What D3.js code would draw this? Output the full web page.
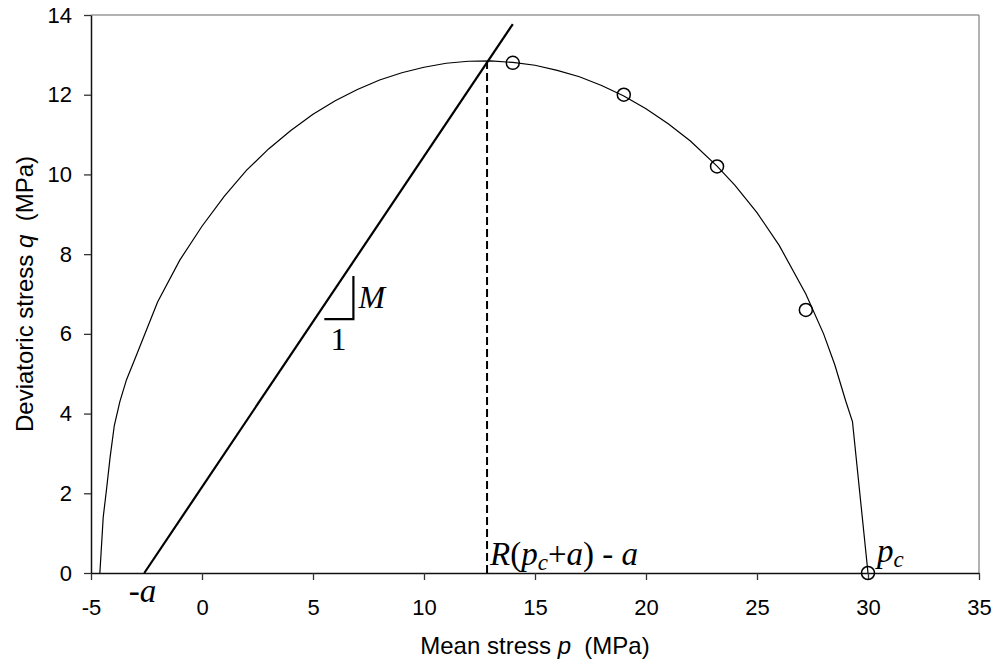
<!DOCTYPE html>
<html>
<head>
<meta charset="utf-8">
<script src="https://cdn.jsdelivr.net/npm/d3@7"></script>
<style>
body { margin: 0; background: #fff; }
svg { display: block; }
.sans { font-family: Arial, "Liberation Sans", sans-serif; }
.serif { font-family: "Times New Roman", "Liberation Serif", serif; }
</style>
</head>
<body>
<svg id="chart" width="997" height="668"></svg>
<script>
// yield surface
var curveP = [-4.6, -4.45, -4.3, -4.14, -3.95, -3.7, -3.4, -3.0, -2.0, -1.0, 0, 1, 2, 3, 4, 5, 6, 7, 8, 9, 10, 11, 12, 13, 14, 15, 16, 17, 18, 19, 20, 21, 22, 23.2, 24, 25, 26, 27.2, 28, 28.5, 29, 29.3, 30];
var curveQ = [0, 1.4, 2.1, 2.9, 3.7, 4.3, 4.85, 5.4, 6.8, 7.85, 8.7, 9.45, 10.1, 10.64, 11.1, 11.51, 11.85, 12.13, 12.37, 12.55, 12.69, 12.79, 12.84, 12.85, 12.81, 12.74, 12.61, 12.45, 12.23, 11.97, 11.65, 11.27, 10.84, 10.21, 9.73, 9.04, 8.22, 7.0, 6.0, 5.23, 4.31, 3.8, 0];

// test points (open circles)
var testP = [14, 19, 23.2, 27.2, 30];
var testQ = [12.8, 12.0, 10.2, 6.6, 0];

// critical state line, slope M
var cslP = [-2.6, 14.0];
var cslQ = [0, 13.77];

// dashed line at the peak
var peakP = [12.84, 12.84];
var peakQ = [0, 12.83];

var xTicks = [-5, 0, 5, 10, 15, 20, 25, 30, 35];
var yTicks = [0, 2, 4, 6, 8, 10, 12, 14];

var svg = d3.select("#chart");
var x = d3.scaleLinear().domain([-5, 35]).range([91, 979]);
var y = d3.scaleLinear().domain([0, 14]).range([573, 15]);

// frame top / right (grey)
svg.append("line")
    .attr("x1", x(-5)).attr("x2", x(35))
    .attr("y1", y(14)).attr("y2", y(14))
    .attr("stroke", "#999").attr("stroke-width", 1.5);
svg.append("line")
    .attr("x1", x(35)).attr("x2", x(35))
    .attr("y1", y(14)).attr("y2", y(0))
    .attr("stroke", "#999").attr("stroke-width", 1.5);

var fmt = function(d){ return String(d); };  // plain hyphen minus like the original

var xAxis = svg.append("g")
    .attr("class", "sans")
    .attr("transform", "translate(0," + y(0) + ")")
    .call(d3.axisBottom(x).tickValues(xTicks).tickFormat(fmt).tickSize(7).tickSizeOuter(0).tickPadding(19));
var yAxis = svg.append("g")
    .attr("class", "sans")
    .attr("transform", "translate(" + x(-5) + ",0)")
    .call(d3.axisLeft(y).tickValues(yTicks).tickFormat(fmt).tickSize(7).tickSizeOuter(0).tickPadding(12));

[xAxis, yAxis].forEach(function(g){
    g.selectAll("text").attr("font-size", 22).attr("fill", "#000")
        .attr("font-family", "Arial, 'Liberation Sans', sans-serif");
    g.select(".domain").attr("stroke", "#111").attr("stroke-width", 1.5);
    g.selectAll(".tick line").attr("stroke", "#333").attr("stroke-width", 1.3);
});

// axis titles
var xt = svg.append("text")
    .attr("class", "sans")
    .attr("x", (x(-5) + x(35)) / 2)
    .attr("y", 654)
    .attr("text-anchor", "middle")
    .attr("font-size", 24)
    .style("white-space", "pre");
xt.append("tspan").text("Mean stress ");
xt.append("tspan").attr("font-style", "italic").text("p");
xt.append("tspan").text("  (MPa)");

var yt = svg.append("text")
    .attr("class", "sans")
    .attr("transform", "translate(33," + (y(0) + y(14)) / 2 + ") rotate(-90)")
    .attr("text-anchor", "middle")
    .attr("font-size", 24)
    .style("white-space", "pre");
yt.append("tspan").text("Deviatoric stress ");
yt.append("tspan").attr("font-style", "italic").text("q");
yt.append("tspan").text("  (MPa)");

var line = d3.line()
    .x(function(d){ return x(d[0]); })
    .y(function(d){ return y(d[1]); });

// yield surface
svg.append("path")
    .datum(d3.zip(curveP, curveQ))
    .attr("d", line)
    .attr("fill", "none")
    .attr("stroke", "#000")
    .attr("stroke-width", 1.2);

// CSL
svg.append("path")
    .datum(d3.zip(cslP, cslQ))
    .attr("d", line)
    .attr("fill", "none")
    .attr("stroke", "#000")
    .attr("stroke-width", 2.2);

// dashed drop line
svg.append("path")
    .datum(d3.zip(peakP, peakQ))
    .attr("d", line)
    .attr("fill", "none")
    .attr("stroke", "#000")
    .attr("stroke-width", 2)
    .attr("stroke-dasharray", "8,4");

// circles
svg.selectAll("circle.pt")
    .data(d3.zip(testP, testQ))
    .enter().append("circle")
    .attr("class", "pt")
    .attr("cx", function(d){ return x(d[0]); })
    .attr("cy", function(d){ return y(d[1]); })
    .attr("r", 6.5)
    .attr("fill", "none")
    .attr("stroke", "#000")
    .attr("stroke-width", 1.5);

// slope triangle
svg.append("path")
    .attr("d", "M" + x(5.51) + "," + y(6.37) + "H" + x(6.82) + "V" + y(7.45))
    .attr("fill", "none")
    .attr("stroke", "#000")
    .attr("stroke-width", 2.2);
svg.append("text").attr("class", "serif")
    .attr("x", x(6.82) + 5).attr("y", y(6.37) - 11)
    .attr("font-size", 32).attr("font-style", "italic")
    .text("M");
svg.append("text").attr("class", "serif")
    .attr("x", x(6.15)).attr("y", y(6.37) + 31)
    .attr("text-anchor", "middle")
    .attr("font-size", 32)
    .text("1");

// -a
var ta = svg.append("text").attr("class", "serif")
    .attr("x", x(-3.3)).attr("y", y(0) + 29)
    .attr("font-size", 33);
ta.append("tspan").text("-");
ta.append("tspan").attr("font-style", "italic").text("a");

// R(pc+a) - a
var tr = svg.append("text").attr("class", "serif")
    .attr("x", x(peakP[0]) + 3).attr("y", y(0) - 8)
    .attr("font-size", 33)
    .style("white-space", "pre");
tr.append("tspan").attr("font-style", "italic").text("R");
tr.append("tspan").text("(");
tr.append("tspan").attr("font-style", "italic").text("p");
tr.append("tspan").attr("font-style", "italic").attr("font-size", 23).attr("dy", 5).text("c");
tr.append("tspan").attr("dy", -5).text("+");
tr.append("tspan").attr("font-style", "italic").text("a");
tr.append("tspan").text(") - ");
tr.append("tspan").attr("font-style", "italic").text("a");

// pc
var tp = svg.append("text").attr("class", "serif")
    .attr("x", x(30) + 9).attr("y", y(0) - 11)
    .attr("font-size", 33).attr("font-style", "italic");
tp.append("tspan").text("p");
tp.append("tspan").attr("font-size", 23).attr("dy", 5).text("c");
</script>
</body>
</html>
